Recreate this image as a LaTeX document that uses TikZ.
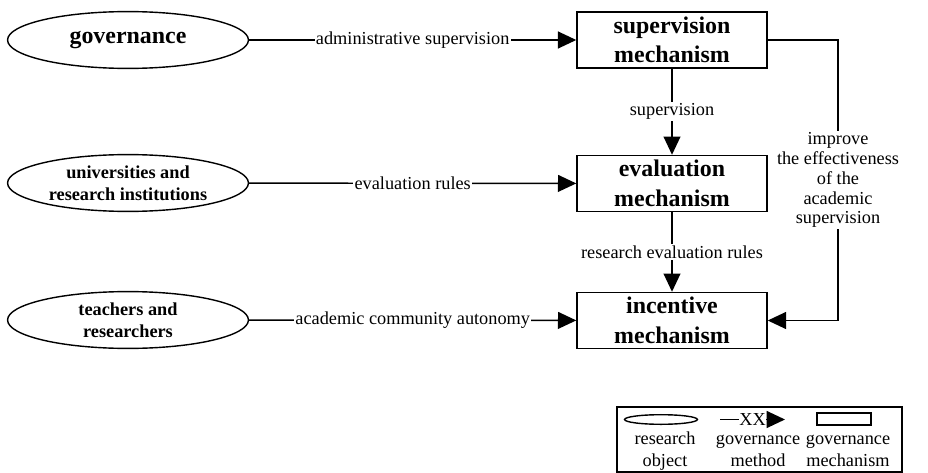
\documentclass[tikz,border=0pt]{standalone}
\usepackage{fontspec}
\setmainfont{Liberation Serif}
\usetikzlibrary{arrows.meta}
\usetikzlibrary{shapes.geometric}
\tikzset{
  mech/.style={draw, line width=1pt, minimum width=4.75cm, minimum height=1.4cm,
    inner sep=0pt, align=center, font=\fontsize{17}{21}\selectfont\bfseries},
  actor/.style={draw, ellipse, line width=1pt, minimum width=6.02cm, minimum height=1.42cm,
    inner sep=0pt, align=center, font=\fontsize{13}{15.5}\selectfont\bfseries},
  flow/.style={line width=1pt, -{Triangle[length=13pt,width=12pt]}},
  lbl/.style={fill=white, inner sep=1pt, align=center, font=\fontsize{13}{14}\selectfont},
  legtext/.style={align=center, font=\fontsize{13}{15.6}\selectfont}
}

\begin{document}
\begin{tikzpicture}[x=0.025cm, y=-0.025cm]
    \useasboundingbox (0, 0) rectangle (928, 473);
    % governance objects
    \node[actor, font=\fontsize{17}{20}\selectfont\bfseries] (gov) at (128, 40) {governance};
    \node[actor] (univ) at (128, 183) {universities and\\research institutions};
    \node[actor] (teach) at (128, 320) {teachers and\\researchers};
    % mechanisms
    \node[mech] (supmech) at (672, 40) {supervision\\mechanism};
    \node[mech] (evalmech) at (672, 183.5) {evaluation\\mechanism};
    \node[mech] (incmech) at (672, 320.5) {incentive\\mechanism};
    \coordinate (turnA) at (838, 40);
    \coordinate (turnB) at (838, 320.5);
    % methods
    \draw[flow] (gov) -- node[lbl]{administrative supervision} (supmech);
    \draw[flow] (univ) -- node[lbl]{evaluation rules} (evalmech);
    \draw[flow] (teach) -- node[lbl]{academic community autonomy} (incmech);
    \draw[flow] (supmech) -- node[lbl]{supervision} (evalmech);
    \draw[flow] (evalmech) -- node[lbl]{research evaluation rules} (incmech);
    \draw[flow] (supmech.east) -- (turnA) -- node[lbl]{improve\\the effectiveness\\of the\\academic\\supervision} (turnB) -- (incmech.east);
    % legend
    \draw[line width=0.8pt] (617, 407) rectangle (902, 472);
    \node[draw, ellipse, line width=1pt, minimum width=1.82cm, minimum height=0.24cm, inner sep=0pt] (legobj) at (661, 419.5) {};
    \coordinate (legfrom) at (720, 419.5);
    \coordinate (legto) at (785, 419.5);
    \draw[flow] (legfrom) -- node[lbl, inner sep=0.5pt]{XX} (legto);
    \node[draw, line width=1pt, minimum width=1.35cm, minimum height=0.3cm, inner sep=0pt] (legmech) at (844, 419) {};
    \node[legtext] (legobjtext) at (665, 451) {research\\object};
    \node[legtext] (legmethtext) at (758, 451) {governance\\method};
    \node[legtext] (legmechtext) at (848, 451) {governance\\mechanism};
\end{tikzpicture}
\end{document}
